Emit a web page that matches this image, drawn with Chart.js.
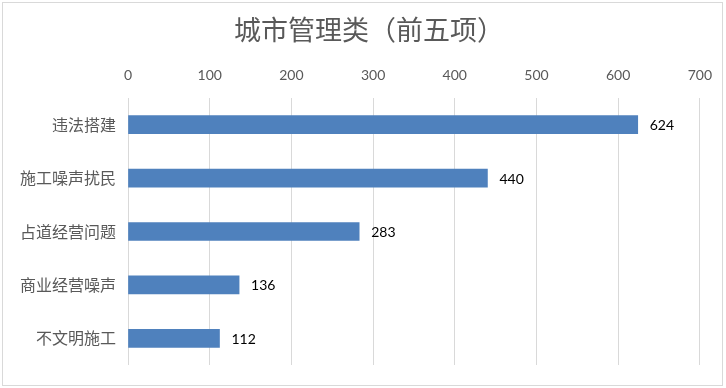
<!DOCTYPE html>
<html>
<head>
<meta charset="utf-8">
<script src="https://cdn.jsdelivr.net/npm/chart.js"></script>
<style>
  body { margin: 0; background: #fff; }
  #wrap { position: relative; width: 726px; height: 388px; }
  #frame { position: absolute; left: 2px; top: 2px; width: 719px; height: 382px; border: 1px solid #d9d9d9; }
  canvas { position: absolute; left: 0; top: 0; }
</style>
</head>
<body>
<div id="wrap">
  <div id="frame"></div>
  <canvas id="myChart" width="726" height="388"></canvas>
</div>
<script>
const categories = ['违法搭建', '施工噪声扰民', '占道经营问题', '商业经营噪声', '不文明施工']
const counts = [624, 440, 283, 136, 112]
const titleText = '城市管理类（前五项）'
const xMax = 700
const xStep = 100

const numFont = 'Lato, "Noto Sans CJK SC", sans-serif'
const cjkFont = '"Noto Sans CJK SC", sans-serif'

// value labels at the end of each bar, title centred on the whole frame
const extras = {
  id: 'extras',
  afterDatasetsDraw(chart){
    const ctx = chart.ctx
    const meta = chart.getDatasetMeta(0)
    ctx.save()
    ctx.fillStyle = '#000000'
    ctx.font = '14px ' + numFont
    ctx.textAlign = 'left'
    ctx.textBaseline = 'middle'
    meta.data.forEach((bar, i)=>{
      ctx.fillText(String(counts[i]), bar.x + 12, bar.y + 1)
    })
    ctx.fillStyle = '#595959'
    ctx.font = '27px ' + cjkFont
    ctx.textAlign = 'center'
    ctx.fillText(titleText, 369, 30)
    ctx.restore()
  }
}

const config = {
  type: 'bar',
  data: {
    labels: categories,
    datasets: [{
      data: counts,
      backgroundColor: '#4f81bd',
      borderWidth: 0,
      barThickness: 18
    }]
  },
  plugins: [extras],
  options: {
    indexAxis: 'y',
    responsive: false,
    animation: false,
    layout: { padding: { left: 0, right: 25, top: 46, bottom: 23 } },
    plugins: {
      legend: { display: false },
      tooltip: { enabled: false },
      title: { display: false }
    },
    scales: {
      x: {
        position: 'top',
        min: 0,
        max: xMax,
        ticks: {
          stepSize: xStep,
          color: '#595959',
          padding: 14,
          font: { family: numFont, size: 14 }
        },
        grid: { color: '#d9d9d9', drawTicks: false },
        border: { display: false },
        afterFit(scale){ scale.height = 52 }
      },
      y: {
        ticks: {
          color: '#595959',
          padding: 12,
          font: { family: cjkFont, size: 16 }
        },
        grid: { display: false, drawTicks: false },
        border: { display: false },
        afterFit(scale){ scale.width = 128 }
      }
    }
  }
}

new Chart(document.getElementById('myChart'), config)
</script>
</body>
</html>
